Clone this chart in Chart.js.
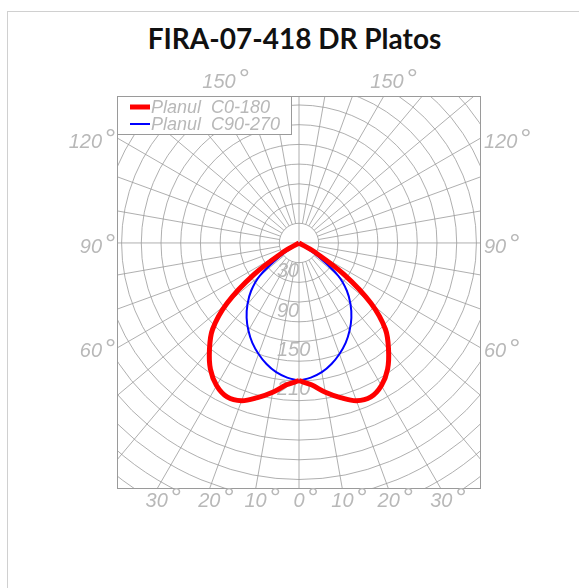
<!DOCTYPE html>
<html>
<head>
<meta charset="utf-8">
<script src="https://cdn.jsdelivr.net/npm/chart.js@4"></script>
<style>
  html, body { margin: 0; padding: 0; background: #fff; overflow: hidden; }
  .frame { position: absolute; left: 7px; top: 11px; width: 640px; height: 640px; border: 1px solid #d0d0d0; }
  h1 { position: absolute; left: 0; top: 21px; width: 589px; margin: 0; text-align: center;
       font: 700 28px Lato, "Open Sans", sans-serif; color: #111; }
  #polar { position: absolute; left: 0; top: 0; }
</style>
</head>
<body>
<div class="frame"></div>
<h1>FIRA-07-418 DR Platos</h1>
<canvas id="polar" width="579" height="588"></canvas>
<script>
// unghiuri fata de nadir (grade) si intensitati (cd/klm)
const ANGLES   = [0, 5, 10, 15, 20, 25, 30, 35, 40, 45, 50, 55, 60, 65, 70, 75, 80, 85, 90];
const C0_180   = [210, 217, 231, 244, 256, 259, 251, 235, 212, 186, 143, 84, 27, 0, 0, 0, 0, 0, 0];
const C90_270  = [210, 206, 200, 191, 180, 168, 154, 139, 122, 103, 78, 35, 0, 0, 0, 0, 0, 0, 0];
const SERIES_NAMES = ["Planul  C0-180", "Planul  C90-270"];
const SERIES_COLORS = ["#ff0000", "#0000ff"];
const SERIES_WIDTHS = [5, 2];

// etichete
const RING_STEP = 30;
const RING_LABELS = [30, 90, 150, 210];
const BOTTOM_TICKS = [-30, -20, -10, 0, 10, 20, 30];
const SIDE_TICKS = [60, 90, 120];
const TOP_TICKS = [150];

const X_MIN = -277, X_MAX = 277, Y_MIN = -375, Y_MAX = 224;
const GRID = "#9a9a9a", LABEL = "#b8b8b8";
const LBL_FONT = 'italic 20px "Liberation Sans", sans-serif';

const rad = (a) => a * Math.PI / 180;

// jumatate de curba, side = -1 (stanga) sau 1 (dreapta)
function toXY(values, side) {
  return ANGLES.map((a, i) => ({
    x: side * values[i] * Math.sin(rad(a)),
    y: -values[i] * Math.cos(rad(a)),
  }));
}

function degLabel(ctx, num, x, y, align) {
  ctx.font = LBL_FONT;
  const w = ctx.measureText(String(num)).width;
  let left = x - w / 2;
  if (align === "right") left = x - w - 14;
  if (align === "left") left = x;
  ctx.textAlign = "left";
  ctx.textBaseline = "middle";
  ctx.fillText(String(num), left, y);
  ctx.font = '28px "Liberation Sans", sans-serif';
  ctx.fillText("°", left + w + 3, y - 2);
}

const polarGrid = {
  id: "polarGrid",
  beforeDatasetsDraw(chart) {
    const { ctx, chartArea: a, scales: { x, y } } = chart;
    const cx = x.getPixelForValue(0), cy = y.getPixelForValue(0);
    const px = (v) => x.getPixelForValue(v) - cx;
    ctx.save();
    ctx.beginPath();
    ctx.rect(a.left, a.top, a.right - a.left, a.bottom - a.top);
    ctx.clip();
    ctx.strokeStyle = GRID;
    ctx.lineWidth = 0.8;
    for (let k = 1; k <= 17; k++) {
      ctx.beginPath();
      ctx.arc(cx, cy, px(k * RING_STEP), 0, Math.PI * 2);
      ctx.stroke();
    }
    for (let ang = 0; ang < 360; ang += 10) {
      const s = Math.sin(rad(ang)), c = Math.cos(rad(ang));
      const r0 = ang % 90 === 0 ? 0 : px(RING_STEP);
      ctx.beginPath();
      ctx.moveTo(cx + r0 * s, cy + r0 * c);
      ctx.lineTo(cx + 700 * s, cy + 700 * c);
      ctx.stroke();
    }
    ctx.restore();

    ctx.save();
    ctx.strokeStyle = GRID;
    ctx.lineWidth = 1;
    ctx.strokeRect(a.left + 0.5, a.top + 0.5, a.right - a.left - 1, a.bottom - a.top - 1);

    ctx.fillStyle = LABEL;
    ctx.font = LBL_FONT;
    ctx.textAlign = "left";
    ctx.textBaseline = "top";
    RING_LABELS.forEach((v) => {
      ctx.fillText(String(v), cx - 22, y.getPixelForValue(-v) - 1);
    });

    BOTTOM_TICKS.forEach((t) => {
      const xv = -Y_MIN * Math.tan(rad(t));
      degLabel(ctx, Math.abs(t), x.getPixelForValue(xv), a.bottom + 12, "center");
    });
    SIDE_TICKS.forEach((t) => {
      const yv = -X_MAX * Math.cos(rad(t)) / Math.sin(rad(t));
      const py = y.getPixelForValue(yv) + 4;
      degLabel(ctx, t, a.left - 1, py, "right");
      degLabel(ctx, t, a.right + 3, py, "left");
    });
    TOP_TICKS.forEach((t) => {
      const xv = Y_MAX * Math.tan(rad(180 - t));
      degLabel(ctx, t, x.getPixelForValue(-xv) + 5, a.top - 14, "center");
      degLabel(ctx, t, x.getPixelForValue(xv) + 3, a.top - 14, "center");
    });
    ctx.restore();
  },
  afterDraw(chart) {
    const { ctx, chartArea: a } = chart;
    ctx.save();
    ctx.fillStyle = "#fff";
    ctx.strokeStyle = GRID;
    ctx.lineWidth = 1;
    ctx.fillRect(a.left, a.top, 174, 38);
    ctx.strokeRect(a.left + 0.5, a.top + 0.5, 174, 38);
    SERIES_NAMES.forEach((name, i) => {
      const yy = a.top + 11 + i * 17;
      ctx.strokeStyle = SERIES_COLORS[i];
      ctx.lineWidth = SERIES_WIDTHS[i];
      ctx.beginPath();
      ctx.moveTo(a.left + 13, yy);
      ctx.lineTo(a.left + 33, yy);
      ctx.stroke();
      ctx.fillStyle = LABEL;
      ctx.font = 'italic 18px "Liberation Sans", sans-serif';
      ctx.textAlign = "left";
      ctx.textBaseline = "middle";
      ctx.fillText(name, a.left + 34, yy + 1);
    });
    ctx.restore();
  },
};

function half(values, side, i) {
  return { label: SERIES_NAMES[i], data: toXY(values, side), showLine: true,
           borderColor: SERIES_COLORS[i], borderWidth: SERIES_WIDTHS[i], pointRadius: 0, tension: 0.35 };
}

new Chart(document.getElementById("polar"), {
  type: "scatter",
  data: {
    datasets: [
      half(C0_180, -1, 0), half(C0_180, 1, 0),
      half(C90_270, -1, 1), half(C90_270, 1, 1),
    ],
  },
  options: {
    responsive: false,
    animation: false,
    layout: { padding: { left: 117, right: 98, top: 96, bottom: 99 } },
    plugins: { legend: { display: false }, tooltip: { enabled: false } },
    scales: {
      x: { type: "linear", min: X_MIN, max: X_MAX, display: false },
      y: { type: "linear", min: Y_MIN, max: Y_MAX, display: false },
    },
  },
  plugins: [polarGrid],
});
</script>
</body>
</html>
